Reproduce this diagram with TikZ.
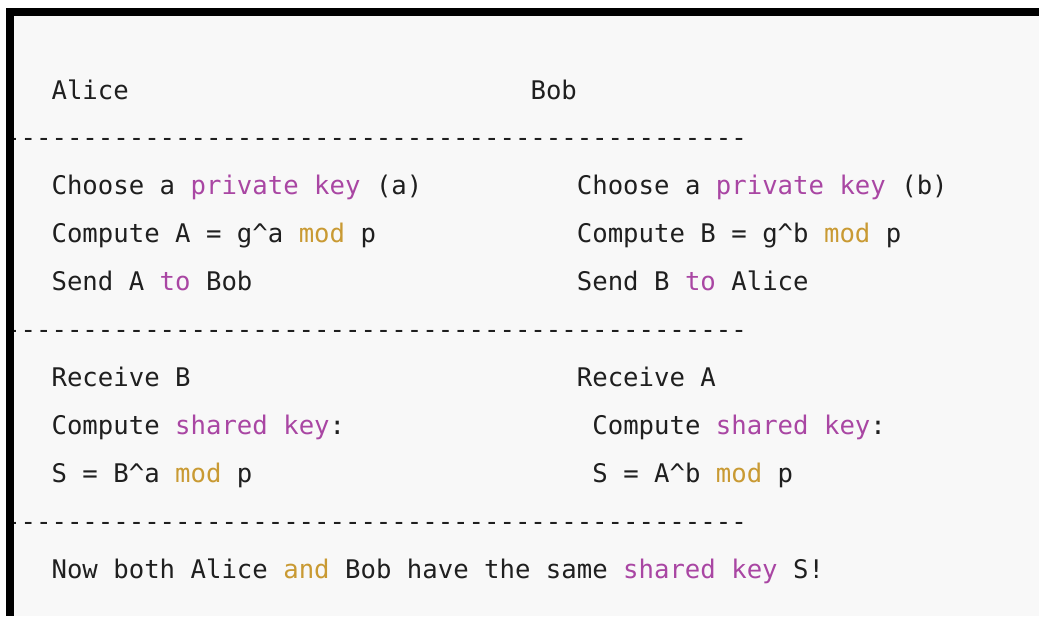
\documentclass[tikz,border=0pt]{standalone}
\usepackage{fontspec}
\setmonofont{DejaVu Sans Mono}
\usepackage{tikz}
\definecolor{codebg}{HTML}{F8F8F8}
\definecolor{codetxt}{HTML}{1F1F1F}
\definecolor{kwpurple}{HTML}{A946A3}
\definecolor{opgold}{HTML}{C99A33}
\newcommand{\kwd}[1]{\textcolor{kwpurple}{#1}}
\newcommand{\opw}[1]{\textcolor{opgold}{#1}}
\tikzset{code/.style={anchor=base west,inner sep=0pt,text=codetxt,font=\ttfamily\fontsize{25.66}{30}\selectfont},
  frame/.style={fill=black,draw=none}}

\begin{document}
\begin{tikzpicture}[x=1pt,y=-1pt]
\useasboundingbox (0,0) rectangle (1039,616);
\fill[white] (0,0) rectangle (1039,616);
\fill[codebg] (10,12) rectangle (1039,616);
% header
\node[code] (alice) at (51.4,99) {Alice};
\node[code] (bob) at (530.35,99) {Bob};
% separators
\foreach \y/\n in {146.9/ruleA,338.5/ruleB,530.1/ruleC}{\node[code] (\n) at (5.05,\y) {------------------------------------------------};}
% first step
\node[code] (chooseA) at (51.4,194.8) {Choose a \kwd{private key} (a)};
\node[code] (chooseB) at (576.7,194.8) {Choose a \kwd{private key} (b)};
\node[code] (computeA) at (51.4,242.7) {Compute A = g\textasciicircum a \opw{mod} p};
\node[code] (computeB) at (576.7,242.7) {Compute B = g\textasciicircum b \opw{mod} p};
\node[code] (sendA) at (51.4,290.6) {Send A \kwd{to} Bob};
\node[code] (sendB) at (576.7,290.6) {Send B \kwd{to} Alice};
% second step
\node[code] (recvA) at (51.4,386.4) {Receive B};
\node[code] (recvB) at (576.7,386.4) {Receive A};
\node[code] (sharedA) at (51.4,434.3) {Compute \kwd{shared key}:};
\node[code] (sharedB) at (592.15,434.3) {Compute \kwd{shared key}:};
\node[code] (keyA) at (51.4,482.2) {S = B\textasciicircum a \opw{mod} p};
\node[code] (keyB) at (592.15,482.2) {S = A\textasciicircum b \opw{mod} p};
% result
\node[code] (result) at (51.4,578) {Now both Alice \opw{and} Bob have the same \kwd{shared key} S!};
% border
\fill[frame] (6,8) rectangle (1039,16);
\fill[frame] (6,8) rectangle (14,616);
\end{tikzpicture}
\end{document}
